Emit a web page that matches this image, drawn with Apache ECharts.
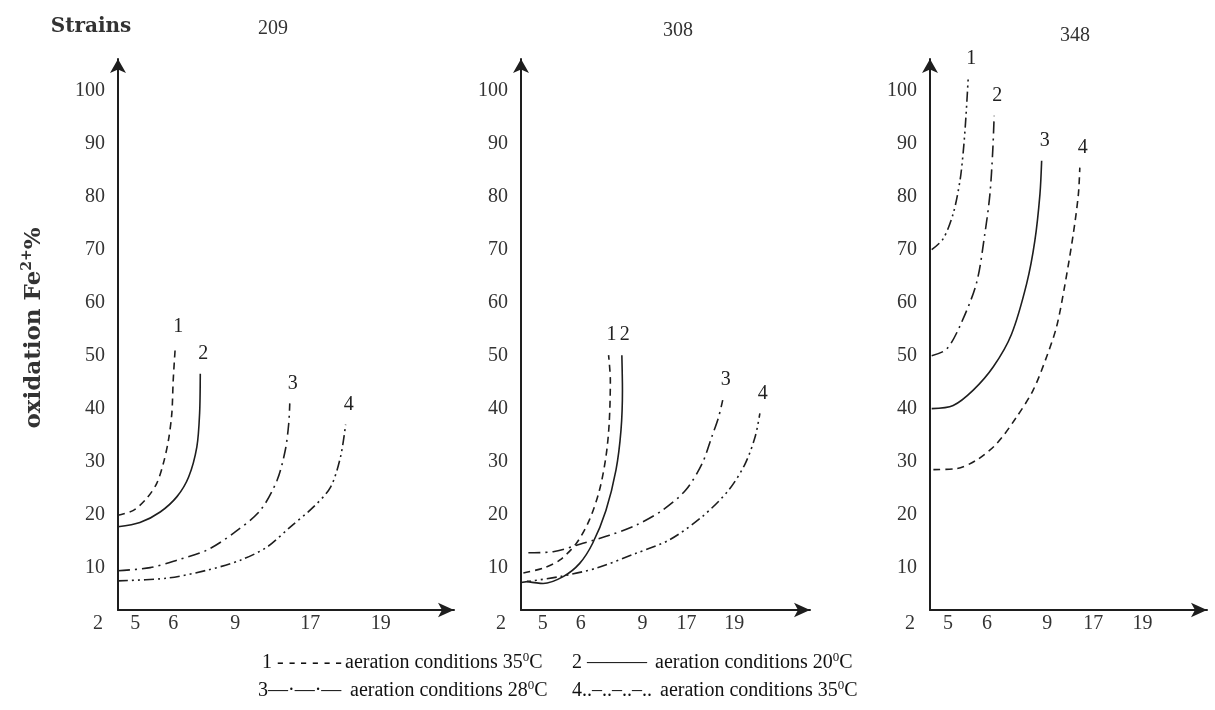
<!DOCTYPE html>
<html>
<head>
<meta charset="utf-8">
<title>Fe2+ oxidation by strains</title>
<script src="https://cdn.jsdelivr.net/npm/echarts@6/dist/echarts.min.js"></script>
<style>
  html, body { margin: 0; padding: 0; background: #fff; }
  #chart { width: 1215px; height: 710px; }
</style>
</head>
<body>
<div id="chart"></div>
<script>
// strains shown in the three panels
var strains = ['209', '308', '348'];

// x axis: tick labels and where they sit along each panel's axis (0..100 of its length)
var xTickLabels = ['5', '6', '9', '17', '19'];
var xTickPos209 = [5.0, 16.1, 34.2, 56.1, 76.6];
var xTickPos308 = [7.4, 20.3, 41.2, 56.1, 72.3];
var xTickPos348 = [6.4, 20.2, 41.5, 57.8, 75.2];

// y axis ticks (oxidation Fe2+ %)
var yTicks = [2, 10, 20, 30, 40, 50, 60, 70, 80, 90, 100];

// curves, [x position, oxidation %]
var s209_1 = [[0, 19.9], [4.5, 20.8], [8.4, 23.1], [11.3, 25.9], [13.2, 29.6], [14.7, 34.0], [15.7, 39.1], [16.1, 45.3], [16.7, 51.6]];
var s209_2 = [[0, 17.7], [6.4, 18.5], [12.3, 20.5], [17.2, 23.4], [20.6, 27.1], [23.0, 32.8], [23.8, 39.1], [24.0, 46.6]];
var s209_3 = [[0, 9.4], [9.4, 10.0], [17.2, 11.4], [25.9, 13.3], [33.7, 16.5], [41.5, 20.8], [46.4, 26.5], [48.8, 32.2], [49.8, 37.2], [50.1, 41.0]];
var s209_4 = [[0, 7.5], [14.2, 8.0], [25.9, 9.5], [35.7, 11.4], [43.5, 13.9], [50.3, 17.7], [57.1, 21.5], [62.0, 25.2], [64.9, 30.9], [66.4, 37.0]];

var s308_1 = [[0.8, 9.0], [7.5, 9.9], [13.1, 11.4], [18.8, 14.6], [23.2, 19.0], [26.6, 24.6], [28.8, 30.9], [29.9, 37.2], [30.3, 45.3], [29.7, 50.1]];
var s308_2 = [[2.0, 7.4], [7.5, 7.0], [14.3, 8.3], [19.9, 10.8], [24.3, 14.6], [28.8, 20.8], [32.2, 28.4], [33.9, 35.9], [34.4, 43.5], [34.2, 50.1]];
var s308_3 = [[2.5, 12.8], [10.9, 13.0], [21.0, 14.6], [30.0, 16.1], [39.0, 18.0], [47.9, 20.8], [55.8, 24.6], [61.4, 29.6], [64.7, 34.7], [67.0, 38.4], [68.4, 41.6]];
var s308_4 = [[0, 7.2], [13.1, 8.3], [25.5, 9.9], [39.0, 12.7], [50.2, 15.2], [61.4, 19.6], [70.4, 24.6], [76.0, 29.6], [79.4, 34.7], [81.0, 39.1]];

var s348_1 = [[0.6, 70.0], [4.7, 72.1], [8.2, 76.8], [10.6, 83.0], [11.8, 88.7], [12.7, 95.0], [13.5, 102.2]];
var s348_2 = [[0.6, 50.0], [5.8, 51.2], [10.5, 55.5], [16.4, 63.6], [19.4, 73.0], [21.2, 80.5], [22.2, 88.7], [22.7, 95.3]];
var s348_3 = [[0.6, 40.0], [8.2, 40.6], [15.3, 43.5], [22.4, 47.9], [28.8, 54.0], [34.2, 63.6], [37.1, 71.7], [38.9, 80.5], [39.5, 86.8]];
var s348_4 = [[1.2, 28.5], [9.4, 28.7], [16.5, 30.3], [23.6, 33.4], [30.6, 38.4], [36.5, 43.5], [41.2, 49.7], [44.8, 55.5], [47.6, 63.0], [50.7, 73.0], [52.5, 80.5], [53.0, 85.5]];

var legendLines = [
  ['1 - - - - - -', 'aeration conditions 35', '2 ———', 'aeration conditions 20'],
  ['3—·—·—', 'aeration conditions 28', '4..–..–..–..', 'aeration conditions 35']
];

var serif = '"Liberation Serif", "Times New Roman", serif';
var ink = '#1e1e1e';

var dashes = {
  solid: 'solid',
  dashed: [7, 5],
  dashdot: [12, 5, 2, 5],
  dashdotdot: [10, 4, 2, 4, 2, 4]
};

var panels = [
  { curves: [s209_1, s209_2, s209_3, s209_4], ticks: xTickPos209, styles: ['dashed', 'solid', 'dashdot', 'dashdotdot'],
    left: 118, width: 336 },
  { curves: [s308_1, s308_2, s308_3, s308_4], ticks: xTickPos308, styles: ['dashed', 'solid', 'dashdot', 'dashdotdot'],
    left: 521, width: 289 },
  { curves: [s348_1, s348_2, s348_3, s348_4], ticks: xTickPos348, styles: ['dashdotdot', 'dashdot', 'solid', 'dashed'],
    left: 930, width: 277 }
];

var grids = [], xAxes = [], yAxes = [], series = [];

panels.forEach(function (p, k) {
  grids.push({ left: p.left, top: 59, width: p.width, height: 551 });

  xAxes.push({
    type: 'value', gridIndex: k, min: 0, max: 98,
    axisLine: { onZero: false, lineStyle: { color: ink, width: 2 }, symbol: ['none', 'arrow'], symbolSize: [11, 16] },
    axisTick: { show: false },
    splitLine: { show: false },
    axisLabel: {
      customValues: p.ticks,
      margin: 4,
      fontFamily: serif, fontSize: 20, color: '#333',
      formatter: function (v) { return xTickLabels[p.ticks.indexOf(v)]; }
    }
  });

  yAxes.push({
    type: 'value', gridIndex: k, min: 2, max: 106,
    axisLine: { lineStyle: { color: ink, width: 2 }, symbol: ['none', 'arrow'], symbolSize: [12, 14] },
    axisTick: { show: false },
    splitLine: { show: false },
    axisLabel: {
      customValues: yTicks,
      margin: 13,
      fontFamily: serif, fontSize: 20, color: '#333',
      formatter: function (v) { return v === 2 ? '{o|2}' : String(v); },
      rich: { o: { fontFamily: serif, fontSize: 20, color: '#333', padding: [27, 2, 0, 0] } }
    }
  });

  p.curves.forEach(function (pts, i) {
    series.push({
      type: 'line',
      xAxisIndex: k, yAxisIndex: k,
      data: pts,
      smooth: 0.3,
      showSymbol: false,
      silent: true,
      lineStyle: { color: ink, width: 1.6, type: dashes[p.styles[i]] },
      endLabel: {
        show: true, formatter: String(i + 1), distance: 0, offset: [-2, -20],
        fontFamily: serif, fontSize: 20, color: '#222'
      }
    });
  });
});

var graphics = [
  { type: 'text', x: 91, y: 27, style: { text: 'Strains', font: 'bold 20px "DejaVu Serif", serif', fill: '#333', align: 'center', verticalAlign: 'middle' } },
  { type: 'text', x: 273, y: 29, style: { text: strains[0], font: '20px ' + serif, fill: '#333', align: 'center', verticalAlign: 'middle' } },
  { type: 'text', x: 678, y: 31, style: { text: strains[1], font: '20px ' + serif, fill: '#333', align: 'center', verticalAlign: 'middle' } },
  { type: 'text', x: 1075, y: 36, style: { text: strains[2], font: '20px ' + serif, fill: '#333', align: 'center', verticalAlign: 'middle' } },
  {
    type: 'text', x: 33, y: 328, rotation: Math.PI / 2,
    style: {
      text: '{t|oxidation Fe}{s|2+}{t|%}', align: 'center', verticalAlign: 'middle',
      rich: {
        t: { font: 'bold 23px "DejaVu Serif", serif', fill: '#333', lineHeight: 26, verticalAlign: 'bottom' },
        s: { font: 'bold 14px "DejaVu Serif", serif', fill: '#333', lineHeight: 26, verticalAlign: 'top' }
      }
    }
  }
];

// bottom key, two rows
var keyX = [[262, 345, 572, 655], [258, 350, 572, 660]];
var keyY = [662, 690];
legendLines.forEach(function (row, r) {
  row.forEach(function (txt, c) {
    var isCond = c % 2 === 1;
    graphics.push({
      type: 'text', x: keyX[r][c], y: keyY[r],
      style: {
        text: isCond ? '{t|' + txt + '}{s|0}{t|C}' : '{t|' + txt + '}',
        verticalAlign: 'middle',
        rich: {
          t: { fontFamily: serif, fontSize: 20, fill: '#111', lineHeight: 22, verticalAlign: 'bottom' },
          s: { fontFamily: serif, fontSize: 13, fill: '#111', lineHeight: 22, verticalAlign: 'top' }
        }
      }
    });
  });
});

var chart = echarts.init(document.getElementById('chart'));
chart.setOption({
  backgroundColor: '#fff',
  animation: false,
  grid: grids,
  xAxis: xAxes,
  yAxis: yAxes,
  series: series,
  graphic: graphics
});
</script>
</body>
</html>
